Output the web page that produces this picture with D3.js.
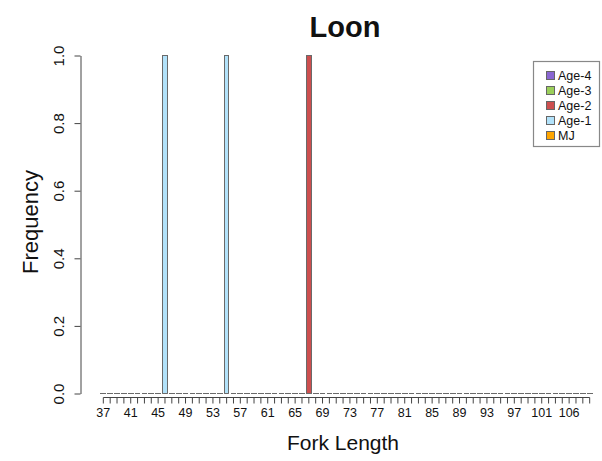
<!DOCTYPE html>
<html>
<head>
<meta charset="utf-8">
<script src="https://cdn.jsdelivr.net/npm/d3@7"></script>
<style>
  html, body { margin: 0; padding: 0; background: #fff; }
  svg { display: block; font-family: "Liberation Sans", Arial, Helvetica, sans-serif; }
</style>
</head>
<body>
<svg id="chart" width="602" height="461"></svg>
<script>
// ---- data ----
const categories = [
  37,38,39,40,41,42,43,44,45,46,47,48,49,50,51,52,53,54,55,56,57,58,59,60,61,62,63,64,65,66,67,68,
  69,70,71,72,73,74,75,76,77,78,79,80,81,82,83,84,85,86,87,88,89,90,91,92,93,94,95,96,97,98,99,100,
  101,102,103,104,106,107,108,109
];
const mj   = [0,0,0,0,0,0,0,0,0,0,0,0,0,0,0,0,0,0,0,0,0,0,0,0,0,0,0,0,0,0,0,0,0,0,0,0,0,0,0,0,0,0,0,0,0,0,0,0,0,0,0,0,0,0,0,0,0,0,0,0,0,0,0,0,0,0,0,0,0,0,0,0];
const age1 = [0,0,0,0,0,0,0,0,0,1,0,0,0,0,0,0,0,0,1,0,0,0,0,0,0,0,0,0,0,0,0,0,0,0,0,0,0,0,0,0,0,0,0,0,0,0,0,0,0,0,0,0,0,0,0,0,0,0,0,0,0,0,0,0,0,0,0,0,0,0,0,0];
const age2 = [0,0,0,0,0,0,0,0,0,0,0,0,0,0,0,0,0,0,0,0,0,0,0,0,0,0,0,0,0,0,1,0,0,0,0,0,0,0,0,0,0,0,0,0,0,0,0,0,0,0,0,0,0,0,0,0,0,0,0,0,0,0,0,0,0,0,0,0,0,0,0,0];
const age3 = [0,0,0,0,0,0,0,0,0,0,0,0,0,0,0,0,0,0,0,0,0,0,0,0,0,0,0,0,0,0,0,0,0,0,0,0,0,0,0,0,0,0,0,0,0,0,0,0,0,0,0,0,0,0,0,0,0,0,0,0,0,0,0,0,0,0,0,0,0,0,0,0];
const age4 = [0,0,0,0,0,0,0,0,0,0,0,0,0,0,0,0,0,0,0,0,0,0,0,0,0,0,0,0,0,0,0,0,0,0,0,0,0,0,0,0,0,0,0,0,0,0,0,0,0,0,0,0,0,0,0,0,0,0,0,0,0,0,0,0,0,0,0,0,0,0,0,0];
const seriesNames = ["MJ", "Age-1", "Age-2", "Age-3", "Age-4"];
const seriesColors = ["#ffa500", "#b2e2fa", "#cd4f4f", "#9bcf5a", "#8a66d2"];
const yTicks = [0, 0.2, 0.4, 0.6, 0.8, 1.0];
const legendOrder = ["Age-4", "Age-3", "Age-2", "Age-1", "MJ"];
const titleText = "Loon";
const xLabel = "Fork Length";
const yLabel = "Frequency";

// ---- build ----
const seriesValues = [mj, age1, age2, age3, age4];
const table = categories.map((c, i) => {
  const row = { cat: c };
  seriesNames.forEach((s, k) => row[s] = seriesValues[k][i]);
  return row;
});
const stack = d3.stack().keys(seriesNames)(table);

const svg = d3.select("#chart");
const x = d3.scaleBand().domain(categories).range([99.9, 593.1]).paddingInner(1/6).paddingOuter(1/12);
const y = d3.scaleLinear().domain([0, 1]).range([393.5, 55.5]);
const color = d3.scaleOrdinal().domain(seriesNames).range(seriesColors);

// bars (paths so zero-height segments still stroke, as in R)
svg.append("g").selectAll("g").data(stack).join("g")
  .attr("fill", d => color(d.key))
  .selectAll("path").data(d => d).join("path")
  .attr("d", d => {
    const x0 = Math.round(x(d.data.cat)) + 0.5, x1 = Math.round(x(d.data.cat) + x.bandwidth()) - 0.5;
    const y0 = y(d[0]), y1 = y(d[1]);
    return `M${x0},${y0}H${x1}V${y1}H${x0}Z`;
  })
  .attr("stroke", "#6a6a6a")
  .attr("stroke-width", 1);

// x axis
const xAxis = d3.axisBottom(x)
  .tickValues(categories)
  .tickSize(6)
  .tickSizeOuter(0)
  .tickPadding(5)
  .tickFormat((d, i) => i % 4 === 0 ? d : "");
const gx = svg.append("g").attr("transform", "translate(0,397.5)").call(xAxis);
gx.select(".domain").remove();
gx.append("line")
  .attr("x1", x(categories[0]) + x.bandwidth() / 2)
  .attr("x2", x(categories[categories.length - 1]) + x.bandwidth() / 2)
  .attr("stroke", "#444");
gx.selectAll(".tick line").attr("stroke", "#444");
gx.selectAll(".tick text").attr("font-size", 12.5).attr("fill", "#111")
  .attr("font-family", "'Liberation Sans', Arial, sans-serif");

// y axis
const yAxis = d3.axisLeft(y).tickValues(yTicks).tickSize(6).tickSizeOuter(0)
  .tickFormat(d3.format(".1f"));
const gy = svg.append("g").attr("transform", "translate(80.5,0)").call(yAxis);
gy.select(".domain").attr("stroke", "#444");
gy.selectAll(".tick line").attr("stroke", "#444");
gy.selectAll(".tick text")
  .attr("font-size", 15)
  .attr("fill", "#111")
  .attr("font-family", "'Liberation Sans', Arial, sans-serif")
  .attr("text-anchor", "middle")
  .attr("x", null).attr("dy", null)
  .attr("transform", "translate(-17,0) rotate(-90)");

// titles
svg.append("text").attr("x", 345).attr("y", 37).attr("text-anchor", "middle")
  .attr("font-size", 29).attr("font-weight", "bold").attr("fill", "#111").text(titleText);
svg.append("text").attr("x", 343).attr("y", 450).attr("text-anchor", "middle")
  .attr("font-size", 21).attr("fill", "#111").text(xLabel);
svg.append("text").attr("transform", "translate(38,222) rotate(-90)").attr("text-anchor", "middle")
  .attr("font-size", 22).attr("fill", "#111").text(yLabel);

// legend
const lg = svg.append("g");
lg.append("rect").attr("x", 533.5).attr("y", 61.5).attr("width", 66).attr("height", 85)
  .attr("fill", "#fff").attr("stroke", "#888").attr("stroke-width", 1.2);
const items = lg.selectAll("g.item").data(legendOrder).join("g").attr("class", "item")
  .attr("transform", (d, i) => `translate(0,${75 + i * 15})`);
items.append("rect").attr("x", 546.5).attr("y", -3.5).attr("width", 8).attr("height", 8)
  .attr("fill", d => color(d)).attr("stroke", "#666").attr("stroke-width", 1);
items.append("text").attr("x", 558).attr("y", 4.5).attr("font-size", 12.5).attr("fill", "#111").text(d => d);
</script>
</body>
</html>
